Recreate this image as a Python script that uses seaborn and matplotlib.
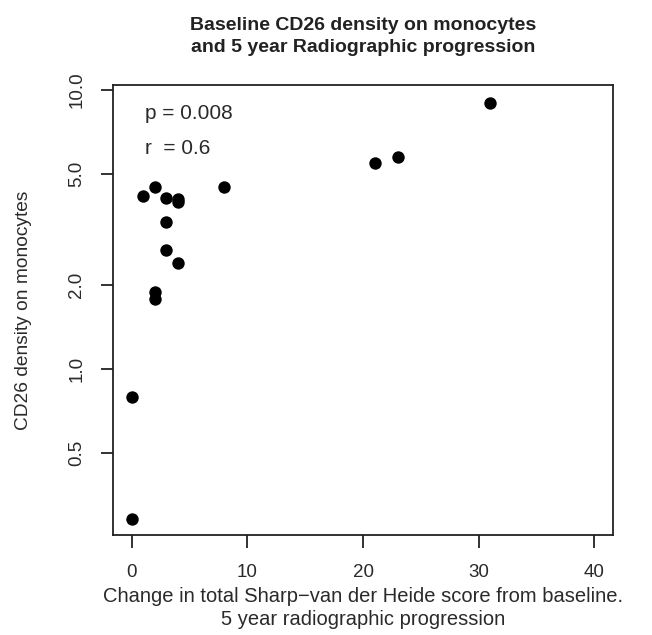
import matplotlib
matplotlib.use("Agg")
import matplotlib.pyplot as plt
import seaborn as sns
import pandas as pd
from matplotlib.ticker import FixedLocator, FixedFormatter, NullLocator

# change in Sharp-van der Heide score (x) and CD26 density (y)
sharp_change = [31, 23, 21, 8, 2, 1, 3, 4, 4, 3, 3, 4, 2, 2, 0, 0]
cd26_density = [9.0, 5.75, 5.45, 4.5, 4.5, 4.18, 4.08, 4.06, 3.97, 3.37,
                2.67, 2.40, 1.88, 1.78, 0.79, 0.29]
y_ticks = [0.5, 1.0, 2.0, 5.0, 10.0]
y_tick_labels = ["0.5", "1.0", "2.0", "5.0", "10.0"]
x_ticks = [0, 10, 20, 30, 40]

df = pd.DataFrame({"x": sharp_change, "y": cd26_density})

sns.set_style("white")
plt.rcParams["font.family"] = ["Liberation Sans", "DejaVu Sans"]

fig = plt.figure(figsize=(6.52, 6.35), dpi=100)
ax = fig.add_axes([0.1733, 0.1575, 0.7669, 0.7086])

sns.scatterplot(data=df, x="x", y="y", ax=ax, color="black", s=80,
                edgecolor="black", linewidth=0)

ax.set_yscale("log")
ax.set_xlim(-1.6, 41.6)
ax.set_ylim(0.254, 10.4)
ax.yaxis.set_major_locator(FixedLocator(y_ticks))
ax.yaxis.set_major_formatter(FixedFormatter(y_tick_labels))
ax.yaxis.set_minor_locator(NullLocator())
ax.set_xticks(x_ticks)

for s in ax.spines.values():
    s.set_color("#222222")
    s.set_linewidth(1.3)
ax.tick_params(axis="both", direction="out", length=9, width=1.3,
               color="#222222", labelsize=13.5, labelcolor="#2a2a2a",
               bottom=True, left=True)
ax.tick_params(axis="x", pad=12)
ax.tick_params(axis="y", pad=11)
for lab in ax.get_yticklabels():
    lab.set_rotation(90)
    lab.set_va("center")

ax.set_xlabel("Change in total Sharp\u2212van der Heide score from baseline.\n"
              "5 year radiographic progression",
              fontsize=14.5, color="#2a2a2a", labelpad=4, linespacing=1.3)
ax.set_ylabel("CD26 density on monocytes", fontsize=13.8, color="#2a2a2a",
              labelpad=26)
ax.set_title("Baseline CD26 density on monocytes\n"
             "and 5 year Radiographic progression",
             fontsize=14, fontweight="bold", color="#222222", pad=24,
             linespacing=1.35)

ax.text(0.064, 0.936, "p = 0.008", transform=ax.transAxes, fontsize=15,
        va="center", ha="left", color="#2a2a2a")
ax.text(0.064, 0.858, "r  = 0.6", transform=ax.transAxes, fontsize=15,
        va="center", ha="left", color="#2a2a2a")

fig.savefig("out.png", dpi=100)
